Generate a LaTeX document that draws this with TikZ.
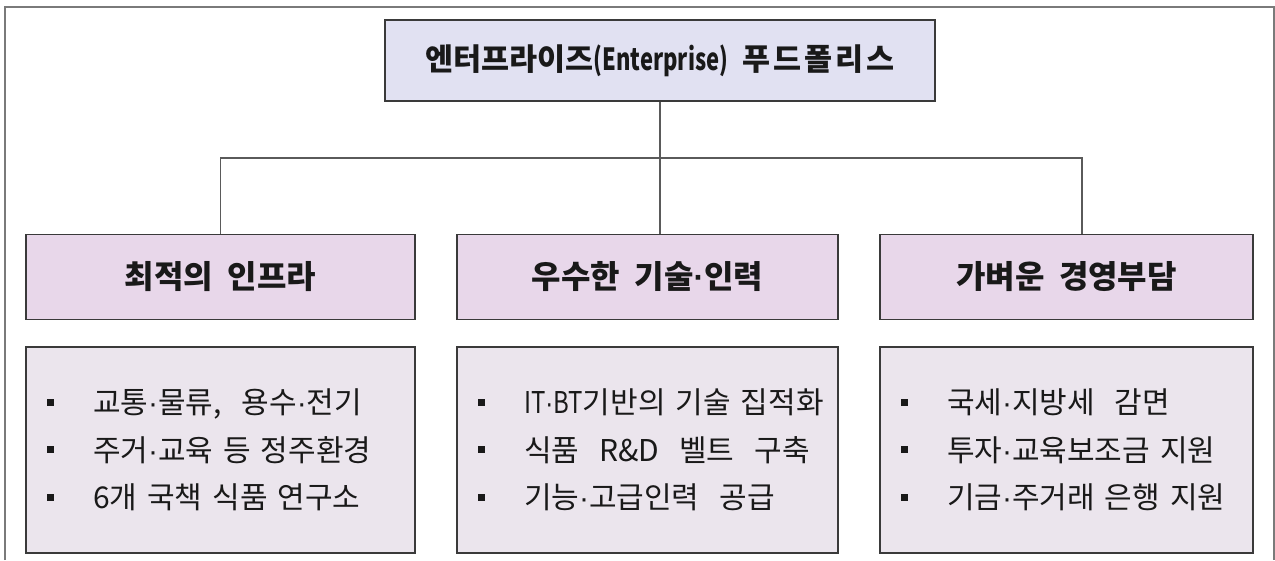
\documentclass[tikz,border=0pt]{standalone}
\usepackage{fontspec}
\usepackage{graphicx}
\setmainfont{Noto Sans CJK KR}
\newfontfamily\dotfont{Liberation Sans}
\definecolor{framegray}{HTML}{7A7A7A}
\definecolor{linegray}{HTML}{5A5A5A}
\definecolor{boxline}{HTML}{3A3A3A}
\definecolor{titlefill}{HTML}{E1E1F2}
\definecolor{catfill}{HTML}{E8D7EA}
\definecolor{detfill}{HTML}{EBE5ED}
\newcommand{\md}{{\dotfont ·}}
\newcommand{\sqbullet}{\hspace*{21pt}\makebox[46pt][l]{\raisebox{8pt}{\rule{7pt}{7pt}}}}
\newcommand{\narrowlatin}[1]{\scalebox{0.72}[1]{#1}}
\newcommand{\dline}[1]{\mbox{\sqbullet #1}}
\begin{document}
\begin{tikzpicture}[x=1pt,y=-1pt,
  boxbase/.style={draw=boxline, line width=1.4pt, rectangle, inner sep=0pt, text=black!90},
  titlebox/.style={boxbase, fill=titlefill, minimum width=550pt, minimum height=81pt, font=\fontsize{30.5}{36}\selectfont\bfseries},
  catbox/.style={boxbase, fill=catfill, minimum height=85pt, font=\fontsize{32}{36}\selectfont\bfseries},
  detbox/.style={boxbase, fill=detfill, minimum height=206pt, font=\fontsize{30}{47.5}\selectfont, align=left},
  conn/.style={draw=linegray, line width=1.1pt},
  framel/.style={draw=framegray, line width=1.8pt}
]
\useasboundingbox (0,0) rectangle (1275,560);
\draw[framel] (5,560) -- (5,7) -- (1274,7) -- (1274,560);

\node[titlebox] (title) at (660,60.5) {엔터프라이즈\narrowlatin{(Enterprise)}\ \ 푸\kern3pt 드\kern3pt 폴\kern3pt 리\kern3pt 스};

\node[catbox, minimum width=389pt] (cat1) at (220.5,277) {최적의\ \ 인프라};
\node[catbox, minimum width=381pt] (cat2) at (647.5,277) {우수한\ \ 기술\md 인력};
\node[catbox, minimum width=373pt] (cat3) at (1066.5,277) {가벼운\ \ 경영부담};

\node[detbox, minimum width=389pt, text width=389pt] (det1) at (220.5,450)
  {\dline{교통\md 물류,\ \ 용수\md 전기}\\ \dline{주거\md 교육\ 등\ 정주환경}\\ \dline{6개 국책 식품 연구소}};
\node[detbox, minimum width=381pt, text width=381pt] (det2) at (647.5,450)
  {\dline{\scalebox{0.8}[1]{IT\md BT}기반의 기술 집적화}\\ \dline{식품\ \ R\&D\ \ 벨트\ \ 구축}\\ \dline{기능\md 고급인력\ \ 공급}};
\node[detbox, minimum width=373pt, text width=373pt] (det3) at (1066.5,450)
  {\dline{국세\md 지방세\ \ 감면}\\ \dline{투자\md 교육보조금 지원}\\ \dline{기금\md 주거래 은행 지원}};

\coordinate (busR) at (1082,158);
\draw[conn] (title.south) -- (title.south |- cat2.north);
\draw[conn] (cat1.north) |- (busR) -- (busR |- cat3.north);
\end{tikzpicture}
\end{document}
